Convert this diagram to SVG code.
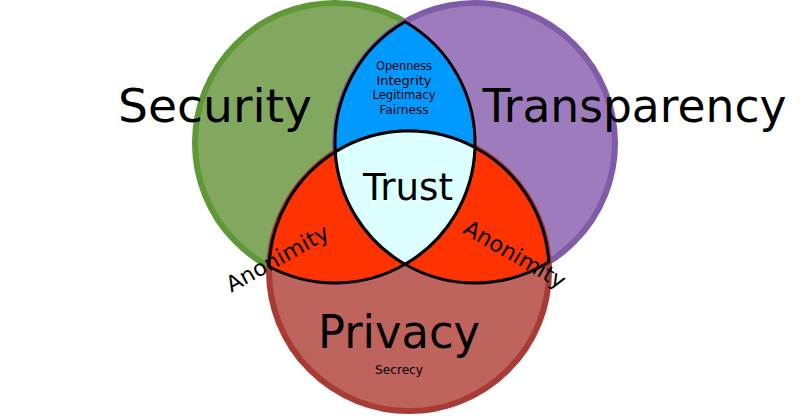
<svg xmlns="http://www.w3.org/2000/svg" width="812" height="416" viewBox="0 0 812 416">
<style>
.t{font-family:"DejaVu Sans","Liberation Sans",sans-serif;fill:#000;text-anchor:middle}
.big{font-size:47px}
.small{font-size:12px}
.anon{font-size:22px}
.reg{stroke:#000;stroke-width:3;stroke-linejoin:round}
</style>
<rect width="812" height="416" fill="#fff"/>
<g id="security">
<circle cx="335" cy="143" r="140" fill="#82a860" stroke="#609838" stroke-width="6"/>
<text class="t big" x="215" y="122" textLength="194" lengthAdjust="spacingAndGlyphs">Security</text>
</g>
<g id="transparency">
<circle cx="475" cy="143" r="140" fill="#9e7bbc" stroke="#805ca8" stroke-width="6"/>
<text class="t big" x="634.5" y="122" textLength="304" lengthAdjust="spacingAndGlyphs">Transparency</text>
</g>
<g id="privacy">
<circle cx="409" cy="271" r="140" fill="#be645c" stroke="#a83c34" stroke-width="6"/>
<text class="t big" x="399" y="348" textLength="162" lengthAdjust="spacingAndGlyphs">Privacy</text>
<text class="t" style="font-size:12.5px" x="399" y="374" textLength="48" lengthAdjust="spacingAndGlyphs">Secrecy</text>
</g>
<g id="sec-trans">
<path class="reg" fill="#0099ff" d="M405,21.76 A140,140 0 0 1 474.93,147.49 A140,140 0 0 0 335.29,151.98 A140,140 0 0 1 405,21.76 Z"/>
<text class="t small" x="404" y="70" textLength="56" lengthAdjust="spacingAndGlyphs">Openness</text>
<text class="t small" x="404" y="84.5" textLength="55" lengthAdjust="spacingAndGlyphs">Integrity</text>
<text class="t small" x="404" y="99" textLength="63" lengthAdjust="spacingAndGlyphs">Legitimacy</text>
<text class="t small" x="404" y="113.5" textLength="49" lengthAdjust="spacingAndGlyphs">Fairness</text>
</g>
<g id="sec-priv">
<path class="reg" fill="#ff3300" d="M269.07,266.51 A140,140 0 0 1 335.29,151.98 A140,140 0 0 0 405,264.24 A140,140 0 0 1 269.07,266.51 Z"/>
</g>
<g id="trans-priv">
<path class="reg" fill="#ff3300" d="M474.93,147.49 A140,140 0 0 1 548.71,262.02 A140,140 0 0 1 405,264.24 A140,140 0 0 0 474.93,147.49 Z"/>
</g>
<g id="trust">
<path class="reg" fill="#dcffff" d="M335.29,151.98 A140,140 0 0 1 474.93,147.49 A140,140 0 0 1 405,264.24 A140,140 0 0 1 335.29,151.98 Z"/>
<text class="t" style="font-size:38px" x="408" y="200" textLength="90" lengthAdjust="spacingAndGlyphs">Trust</text>
</g>
<g id="labels">
<text class="t anon" transform="translate(281,265) rotate(-29)" x="0" y="0" textLength="114" lengthAdjust="spacingAndGlyphs">Anonimity</text>
<text class="t anon" transform="translate(511,261) rotate(30)" x="0" y="0" textLength="114" lengthAdjust="spacingAndGlyphs">Anonimity</text>
</g>
<g id="connectors"/>
</svg>
